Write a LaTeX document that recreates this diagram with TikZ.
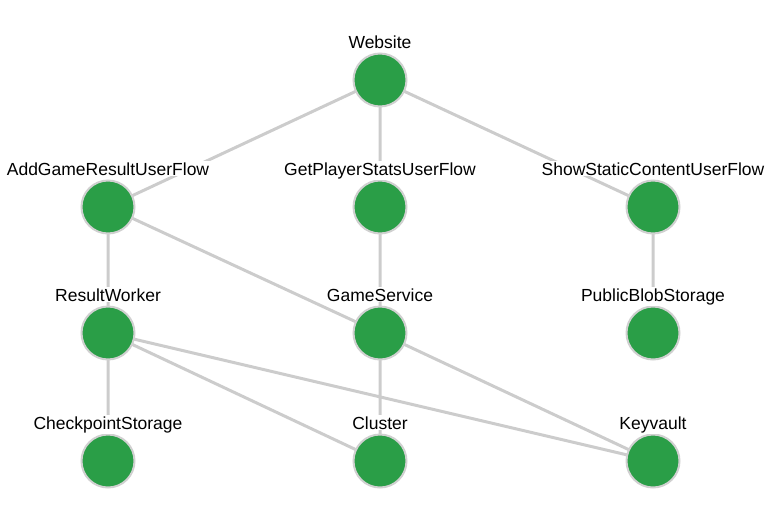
\documentclass[tikz,border=0pt]{standalone}
\usepackage{fontspec}
\setmainfont{Liberation Sans}
\definecolor{nodegreen}{HTML}{2A9E47}
\definecolor{edgegray}{HTML}{CCCCCC}
\definecolor{ringgray}{HTML}{D0D0D0}
\begin{document}
\begin{tikzpicture}[x=1pt,y=-1pt,
  dot/.style={circle,fill=nodegreen,draw=ringgray,line width=2pt,minimum size=53pt,inner sep=0pt},
  lbl/.style={anchor=base,font=\fontsize{17.5}{20}\selectfont,inner sep=1pt,fill=white},
  edge/.style={draw=edgegray,line width=3pt}]
\useasboundingbox (0,0) rectangle (774,528);
\coordinate (web) at (380,80);
\coordinate (add) at (108,207);
\coordinate (get) at (380,207);
\coordinate (show) at (653,207);
\coordinate (rw) at (108,333);
\coordinate (gs) at (380,333);
\coordinate (pbs) at (653,333);
\coordinate (cp) at (108,461);
\coordinate (cl) at (380,461);
\coordinate (kv) at (653,461);
\path[edge] (web) -- (add) (web) -- (get) (web) -- (show)
  (add) -- (rw) (add) -- (gs) (get) -- (gs)
  (show) -- (pbs) (rw) -- (cp) (rw) -- (cl)
  (rw) -- (kv) (gs) -- (cl) (gs) -- (kv);
\foreach \n in {web,add,get,show,rw,gs,pbs,cp,cl,kv}{
  \node[dot] (d\n) at (\n) {};
}
\node[lbl] (lweb) at (380,48) {Website};
\node[lbl] (ladd) at (108,175) {AddGameResultUserFlow};
\node[lbl] (lget) at (380,175) {GetPlayerStatsUserFlow};
\node[lbl] (lshow) at (653,175) {ShowStaticContentUserFlow};
\node[lbl] (lrw) at (108,301) {ResultWorker};
\node[lbl] (lgs) at (380,301) {GameService};
\node[lbl] (lpbs) at (653,301) {PublicBlobStorage};
\node[lbl] (lcp) at (108,429) {CheckpointStorage};
\node[lbl] (lcl) at (380,429) {Cluster};
\node[lbl] (lkv) at (653,429) {Keyvault};
\end{tikzpicture}
\end{document}
